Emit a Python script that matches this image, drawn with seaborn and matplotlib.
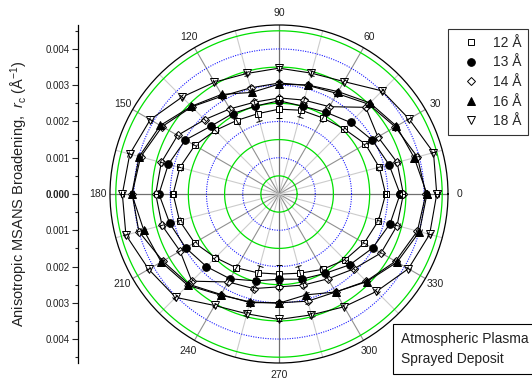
import numpy as np
import pandas as pd
import matplotlib
matplotlib.use("Agg")
import matplotlib.pyplot as plt
from matplotlib.lines import Line2D
import seaborn as sns

sns.set_style("white")
plt.rcParams['font.family'] = ['Liberation Sans', 'DejaVu Sans']
plt.rcParams['mathtext.fontset'] = 'custom'
plt.rcParams['mathtext.rm'] = 'Liberation Sans'
plt.rcParams['mathtext.it'] = 'Liberation Sans:italic'

# ---------------- data ----------------
angles_deg = [0, 15, 30, 45, 60, 75, 90, 105, 120, 135, 150, 165,
              180, 195, 210, 225, 240, 255, 270, 285, 300, 315, 330, 345]

r_12 = [0.00294, 0.00286, 0.00275, 0.00254, 0.00242, 0.00239, 0.00234, 0.00229,
        0.00234, 0.00248, 0.00268, 0.00283, 0.00292, 0.00284, 0.00269, 0.00248,
        0.00235, 0.00225, 0.00221, 0.00226, 0.00240, 0.00257, 0.00271, 0.00284]
r_13 = [0.00334, 0.00314, 0.00297, 0.00279, 0.00260, 0.00251, 0.00257, 0.00251,
        0.00256, 0.00265, 0.00298, 0.00316, 0.00331, 0.00312, 0.00297, 0.00283,
        0.00270, 0.00248, 0.00235, 0.00243, 0.00253, 0.00276, 0.00298, 0.00317]
r_14 = [0.00343, 0.00337, 0.00315, 0.00338, 0.00278, 0.00268, 0.00265, 0.00262,
        0.00271, 0.00290, 0.00323, 0.00336, 0.00340, 0.00334, 0.00315, 0.00340,
        0.00280, 0.00270, 0.00256, 0.00260, 0.00270, 0.00292, 0.00325, 0.00337]
r_14b = [0.00405, 0.00395, 0.00370, 0.00350, 0.00320, 0.00310, 0.00306, 0.00303,
         0.00312, 0.00340, 0.00372, 0.00395, 0.00405, 0.00400, 0.00370, 0.00352,
         0.00320, 0.00310, 0.00300, 0.00306, 0.00312, 0.00340, 0.00371, 0.00395]
r_16 = [0.00408, 0.00386, 0.00374, 0.00355, 0.00326, 0.00311, 0.00303, 0.00290,
        0.00317, 0.00342, 0.00378, 0.00399, 0.00406, 0.00386, 0.00375, 0.00356,
        0.00322, 0.00308, 0.00301, 0.00288, 0.00312, 0.00342, 0.00376, 0.00401]
r_18 = [0.00435, 0.00441, 0.00414, 0.00402, 0.00358, 0.00345, 0.00347, 0.00344,
        0.00356, 0.00378, 0.00410, 0.00426, 0.00432, 0.00437, 0.00415, 0.00403,
        0.00355, 0.00342, 0.00346, 0.00345, 0.00359, 0.00380, 0.00412, 0.00430]

err_12 = [0.00005, 0.00005, 0.00005, 0.00005, 0.00008, 0.00020, 0.00025, 0.00020,
          0.00008, 0.00005, 0.00005, 0.00005, 0.00005, 0.00005, 0.00005, 0.00005,
          0.00008, 0.00020, 0.00025, 0.00020, 0.00008, 0.00005, 0.00005, 0.00005]
err_other = [0.00005] * 24

labels = ["12 Å", "13 Å", "14 Å", "16 Å", "18 Å"]
ytick_vals = [-0.004, -0.003, -0.002, -0.001, 0.0, 0.001, 0.002, 0.003, 0.004]
theta_labels = ["0", "30", "60", "90", "120", "150", "180", "210", "240", "270", "300", "330"]
green_rings = [0.0005, 0.0015, 0.0025, 0.0035, 0.0045]
blue_rings = [0.001, 0.002, 0.003, 0.004]
note_text = "Atmospheric Plasma\nSprayed Deposit"

# --------------- figure ---------------
W, H = 532, 381
fig = plt.figure(figsize=(W / 100, H / 100), dpi=100)
cx, cy, R = 279, 194, 169
rmax = 0.00466

ax = fig.add_axes([(cx - R) / W, (H - cy - R) / H, 2 * R / W, 2 * R / H], projection='polar')
ax.set_facecolor('white')
ax.set_ylim(0, rmax)
ax.grid(False)
ax.set_yticks([])
ax.spines['polar'].set_color('black')
ax.spines['polar'].set_linewidth(0.9)

# spokes
full = np.linspace(0, 2 * np.pi, 721)
for a in range(0, 360, 15):
    th = np.deg2rad(a)
    if a % 90 == 0:
        col, lw = '#707070', 0.9
    elif a % 30 == 0:
        col, lw = '#909090', 0.8
    else:
        col, lw = '#cccccc', 0.8
    ax.plot([th, th], [0, rmax], color=col, lw=lw, zorder=1)
for rr in green_rings:
    ax.plot(full, np.full_like(full, rr), color='#00e000', lw=0.9, zorder=1.5)
for rr in blue_rings:
    ax.plot(full, np.full_like(full, rr), color='#1a1aff', lw=0.8, ls=(0, (1, 1.2)), zorder=1.5)

# theta ticks
ax.set_xticks(np.deg2rad(np.arange(0, 360, 30)))
ax.set_xticklabels(theta_labels, fontsize=7.5, color='#222222')
ax.set_xticks(np.deg2rad(np.arange(15, 360, 30)), minor=True)
ax.tick_params(axis='x', which='both', direction='in', length=5, width=0.8, color='black', pad=1.5)

# series
specs = [
    (r_12, err_12, 's', 'white', labels[0]),
    (r_13, err_other, 'o', 'black', labels[1]),
    (r_14, err_other, 'D', 'white', labels[2]),
    (r_14b, err_other, 'D', 'white', None),
    (r_16, err_other, '^', 'black', labels[3]),
    (r_18, err_other, 'v', 'white', labels[4]),
]
msize = {'s': 5, 'o': 5.5, 'D': 4.2, '^': 5.8, 'v': 5.8}
for i, (r, e, m, fc, lab) in enumerate(specs):
    th = np.deg2rad(angles_deg + [360])
    rr = r + [r[0]]
    df = pd.DataFrame({'theta': th, 'r': rr})
    sns.lineplot(data=df, x='theta', y='r', ax=ax, sort=False, estimator=None,
                 color='black', lw=0.8, marker=m, markersize=msize[m],
                 markerfacecolor=fc, markeredgecolor='black', markeredgewidth=0.7,
                 zorder=3 + i, legend=False)
    ax.errorbar(np.deg2rad(angles_deg), r, yerr=e, fmt='none', ecolor='black',
                elinewidth=0.7, capsize=2, capthick=0.7, zorder=3 + i)
    if m == 'v':
        ax.errorbar(np.deg2rad(angles_deg), r, yerr=[0.00008] * 24, fmt='none', ecolor='black',
                    elinewidth=0.6, capsize=0, zorder=3 + i)
ax.set_xlabel('')
ax.set_ylabel('')
ax.set_ylim(0, rmax)

# left linear axis
ax2 = fig.add_axes([78 / W, (H - cy - R) / H, 0.001, 2 * R / H])
ax2.set_ylim(-rmax, rmax)
ax2.set_facecolor('none')
for s in ['top', 'right', 'bottom']:
    ax2.spines[s].set_visible(False)
ax2.spines['left'].set_color('black')
ax2.spines['left'].set_linewidth(0.9)
ax2.set_xticks([])
ax2.set_yticks(ytick_vals)
ax2.set_yticklabels([f"{abs(v):.3f}" for v in ytick_vals], fontsize=7, color='#222222')
ax2.set_yticks(np.arange(-0.0045, 0.0046, 0.001), minor=True)
ax2.tick_params(axis='y', which='major', direction='out', length=4, width=0.8, left=True, pad=2)
ax2.tick_params(axis='y', which='minor', direction='out', length=2.5, width=0.8, left=True)
for t in ax2.get_yticklabels():
    if t.get_text() == "0.000":
        t.set_fontweight('bold')
ax2.set_ylabel(r'Anisotropic MSANS Broadening,  $r_{\mathrm{c}}$ (Å$^{-1}$)', fontsize=10.5,
               color='#222222', labelpad=11)

# legend
handles = [Line2D([], [], ls='none', marker=m, markersize=msize[m], markerfacecolor=fc,
                  markeredgecolor='black', markeredgewidth=0.7)
           for (_, _, m, fc, lab) in specs if lab is not None]
leg = fig.legend(handles, labels, loc='upper left', bbox_to_anchor=(447.5 / W, 1 - 29 / H),
                 fontsize=10, frameon=True, fancybox=False, edgecolor='black',
                 borderpad=0.5, labelspacing=0.4, handletextpad=0.35, handlelength=2.4,
                 borderaxespad=0)
leg.get_frame().set_linewidth(0.8)

# annotation box
fig.text(401 / W, 1 - 349 / H, note_text, fontsize=10, va='center', ha='left', color='#222222',
         linespacing=1.55,
         bbox=dict(boxstyle='square,pad=0.55', facecolor='white', edgecolor='black', linewidth=0.8))

fig.savefig('out.png', dpi=100)
